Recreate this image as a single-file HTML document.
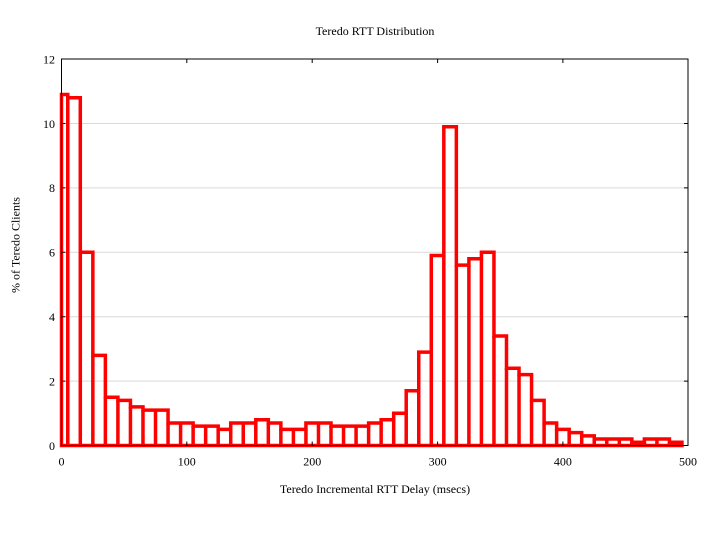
<!DOCTYPE html>
<html>
<head>
<meta charset="utf-8">
<style>
html,body{margin:0;padding:0;background:#fff;}
svg{display:block;}
text{font-family:"Liberation Serif",serif;fill:#000;}
</style>
</head>
<body>
<svg width="720" height="540" viewBox="0 0 720 540" xmlns="http://www.w3.org/2000/svg">
<rect x="0" y="0" width="720" height="540" fill="#fff"/>
<path d="M61.5 381.1H688M61.5 316.7H688M61.5 252.3H688M61.5 187.9H688M61.5 123.5H688" stroke="#d9d9d9" stroke-width="1" fill="none"/>
<path fill="none" stroke="#ff0000" stroke-width="3.5" stroke-linejoin="miter"
d="M61.5 445.5V94.52H67.77V97.74H80.3V252.3H92.84V355.34H105.37V397.2H117.91V400.42H130.44V406.86H142.98V410.08H168.05V422.96H193.12V426.18H218.19V429.4H230.72V422.96H255.79V419.74H268.33V422.96H280.86V429.4H305.93V422.96H331V426.18H368.61V422.96H381.14V419.74H393.68V413.3H406.21V390.76H418.75V352.12H431.28V255.52H443.82V126.72H456.35V265.18H468.89V258.74H481.42V252.3H493.96V336.02H506.49V368.22H519.03V374.66H531.56V400.42H544.1V422.96H556.63V429.4H569.17V432.62H581.7V435.84H594.24V439.06H631.84V442.28H644.38V439.06H669.45V442.28H681.98V445.5Z"/>
<path fill="none" stroke="#ff0000" stroke-width="3.5"
d="M67.77 445.5V97.74M80.3 445.5V252.3M92.84 445.5V355.34M105.37 445.5V397.2M117.91 445.5V400.42M130.44 445.5V406.86M142.98 445.5V410.08M155.51 445.5V410.08M168.05 445.5V422.96M180.58 445.5V422.96M193.12 445.5V426.18M205.65 445.5V426.18M218.19 445.5V429.4M230.72 445.5V429.4M243.26 445.5V422.96M255.79 445.5V422.96M268.33 445.5V422.96M280.86 445.5V429.4M293.4 445.5V429.4M305.93 445.5V429.4M318.47 445.5V422.96M331 445.5V426.18M343.54 445.5V426.18M356.07 445.5V426.18M368.61 445.5V426.18M381.14 445.5V422.96M393.68 445.5V419.74M406.21 445.5V413.3M418.75 445.5V390.76M431.28 445.5V352.12M443.82 445.5V255.52M456.35 445.5V265.18M468.89 445.5V265.18M481.42 445.5V258.74M493.96 445.5V336.02M506.49 445.5V368.22M519.03 445.5V374.66M531.56 445.5V400.42M544.1 445.5V422.96M556.63 445.5V429.4M569.17 445.5V432.62M581.7 445.5V435.84M594.24 445.5V439.06M606.77 445.5V439.06M619.31 445.5V439.06M631.84 445.5V442.28M644.38 445.5V442.28M656.91 445.5V439.06M669.45 445.5V442.28"/>
<rect x="61.5" y="59" width="626.5" height="386.5" fill="none" stroke="#000" stroke-width="1"/>
<path stroke="#000" stroke-width="1" fill="none"
d="M186.8 59v4M312.2 59v4M437.6 59v4M562.9 59v4M186.8 445.5v-4M312.2 445.5v-4M437.6 445.5v-4M562.9 445.5v-4M688 381.1h-4M688 316.7h-4M688 252.3h-4M688 187.9h-4M688 123.5h-4M61.5 381.1h4M61.5 316.7h4M61.5 252.3h4M61.5 187.9h4M61.5 123.5h4"/>
<g font-size="12" text-anchor="end">
<text x="55" y="449.8">0</text>
<text x="55" y="385.4">2</text>
<text x="55" y="321">4</text>
<text x="55" y="256.6">6</text>
<text x="55" y="192.2">8</text>
<text x="55" y="127.8">10</text>
<text x="55" y="63.4">12</text>
</g>
<g font-size="12" text-anchor="middle">
<text x="61.5" y="465.5">0</text>
<text x="186.8" y="465.5">100</text>
<text x="312.2" y="465.5">200</text>
<text x="437.6" y="465.5">300</text>
<text x="562.9" y="465.5">400</text>
<text x="688" y="465.5">500</text>
</g>
<text x="375" y="35" font-size="12" text-anchor="middle">Teredo RTT Distribution</text>
<text x="375" y="493" font-size="12" text-anchor="middle">Teredo Incremental RTT Delay (msecs)</text>
<text x="0" y="0" font-size="12" text-anchor="middle" transform="translate(19.5,245) rotate(-90)">% of Teredo Clients</text>
</svg>
</body>
</html>
